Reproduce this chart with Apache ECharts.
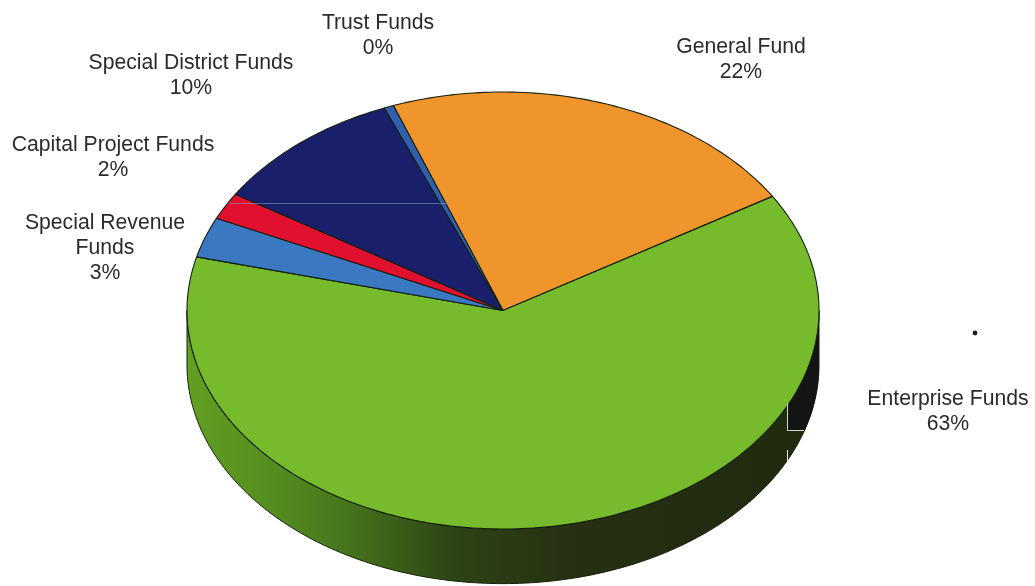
<!DOCTYPE html>
<html>
<head>
<meta charset="utf-8">
<style>html,body{margin:0;padding:0;background:#fff}#chart{width:1035px;height:586px}</style>
<script src="https://cdn.jsdelivr.net/npm/echarts@6/dist/echarts.min.js"></script>
</head>
<body>
<div id="chart"></div>
<script>
// Share of funds by type, clockwise from the top of the disc
const fundNames = ['General Fund', 'Enterprise Funds', 'Special Revenue Funds', 'Capital Project Funds', 'Special District Funds', 'Trust Funds'];
const fundShares = [22, 63, 3, 2, 10, 0.49];
const fundColors = ['#ef952b', '#76bb2b', '#3a78c2', '#e2102f', '#1a1f6c', '#2f5fae'];

const START_DEG = -20.3;
const DISC_DEPTH = 0.25;
const total = fundShares.reduce((a, b) => a + b, 0);
const rad = d => d * Math.PI / 180;

// Cumulative start and end bearing of every slice
let running = START_DEG;
const sliceRows = fundShares.map((v, i) => {
  const from = running;
  running += v / total * 360;
  return [i, from, running];
});

const rimPoint = (api, deg, drop) => api.coord([Math.sin(rad(deg)), Math.cos(rad(deg)) - drop]);

function renderSlice(params, api) {
  const i = api.value(0), from = api.value(1), to = api.value(2);
  const pts = [api.coord([0, 0])];
  for (let d = from; d < to; d += 1) pts.push(rimPoint(api, d, 0));
  pts.push(rimPoint(api, to, 0));
  return {
    type: 'polygon',
    shape: { points: pts },
    style: { fill: fundColors[i], stroke: '#14200f', lineWidth: 1.1, lineJoin: 'round' }
  };
}

// Side wall of the disc along its front half
function renderWall(params, api) {
  const pts = [];
  for (let d = 90; d <= 270; d += 1) pts.push(rimPoint(api, d, 0));
  for (let d = 270; d >= 90; d -= 1) pts.push(rimPoint(api, d, DISC_DEPTH));
  return {
    type: 'group',
    children: [
      {
        type: 'polygon',
        shape: { points: pts },
        style: {
          fill: {
            type: 'linear', x: 0, y: 0, x2: 1, y2: 0,
            colorStops: [
              { offset: 0, color: '#62a021' },
              { offset: 0.14, color: '#548d20' },
              { offset: 0.27, color: '#44701c' },
              { offset: 0.42, color: '#2d4414' },
              { offset: 0.62, color: '#262f12' },
              { offset: 1, color: '#1f2a0f' }
            ]
          },
          stroke: '#17220c', lineWidth: 1
        }
      },
      {
        type: 'polygon',
        shape: { points: pts },
        clipPath: { type: 'rect', shape: { x: 787, y: 326, width: 40, height: 104 } },
        style: { fill: '#141414' }
      }
    ]
  };
}

const labelFont = { fontFamily: 'Liberation Sans', fontSize: 21.2, fill: '#2b2b2b', align: 'center', verticalAlign: 'middle', lineHeight: 25 };
const labelText = (i, x, y, name) => ({
  type: 'text', x, y, z: 100,
  style: Object.assign({ text: (name || fundNames[i]) + '\n' + Math.round(fundShares[i]) + '%' }, labelFont)
});

const chart = echarts.init(document.getElementById('chart'), null, { renderer: 'canvas' });
chart.setOption({
  animation: false,
  backgroundColor: '#ffffff',
  grid: { left: 187, top: 92, width: 632, height: 437 },
  xAxis: { type: 'value', min: -1, max: 1, show: false },
  yAxis: { type: 'value', min: -1, max: 1, show: false },
  series: [
    { type: 'custom', coordinateSystem: 'cartesian2d', renderItem: renderWall, data: [[0]], clip: false, silent: true, encode: { x: 0 } },
    { type: 'custom', coordinateSystem: 'cartesian2d', renderItem: renderSlice, data: sliceRows, clip: false, silent: true, encode: { x: 0 } }
  ],
  graphic: {
    z: 100,
    elements: [
      labelText(5, 378, 36),
      labelText(0, 741, 60),
      labelText(4, 191, 76),
      labelText(3, 113, 158),
      labelText(2, 105, 248, 'Special Revenue\nFunds'),
      labelText(1, 948, 412),
      { type: 'circle', z: 100, shape: { cx: 975, cy: 333, r: 2.4 }, style: { fill: '#1c1c1c' } },
      // Faint rule and seam lines across the disc
      { type: 'line', z: 100, shape: { x1: 229, y1: 203.5, x2: 450, y2: 203.5 }, style: { stroke: '#8096c2', lineWidth: 1, opacity: 0.6 } },
      { type: 'polyline', z: 100, shape: { points: [[787.5, 403], [787.5, 430.5], [804, 430.5]] }, style: { stroke: '#d2d2ca', lineWidth: 1, fill: 'none' } },
      { type: 'line', z: 100, shape: { x1: 787.5, y1: 450, x2: 787.5, y2: 461 }, style: { stroke: '#e8e8e0', lineWidth: 1 } }
    ]
  }
});
</script>
</body>
</html>
